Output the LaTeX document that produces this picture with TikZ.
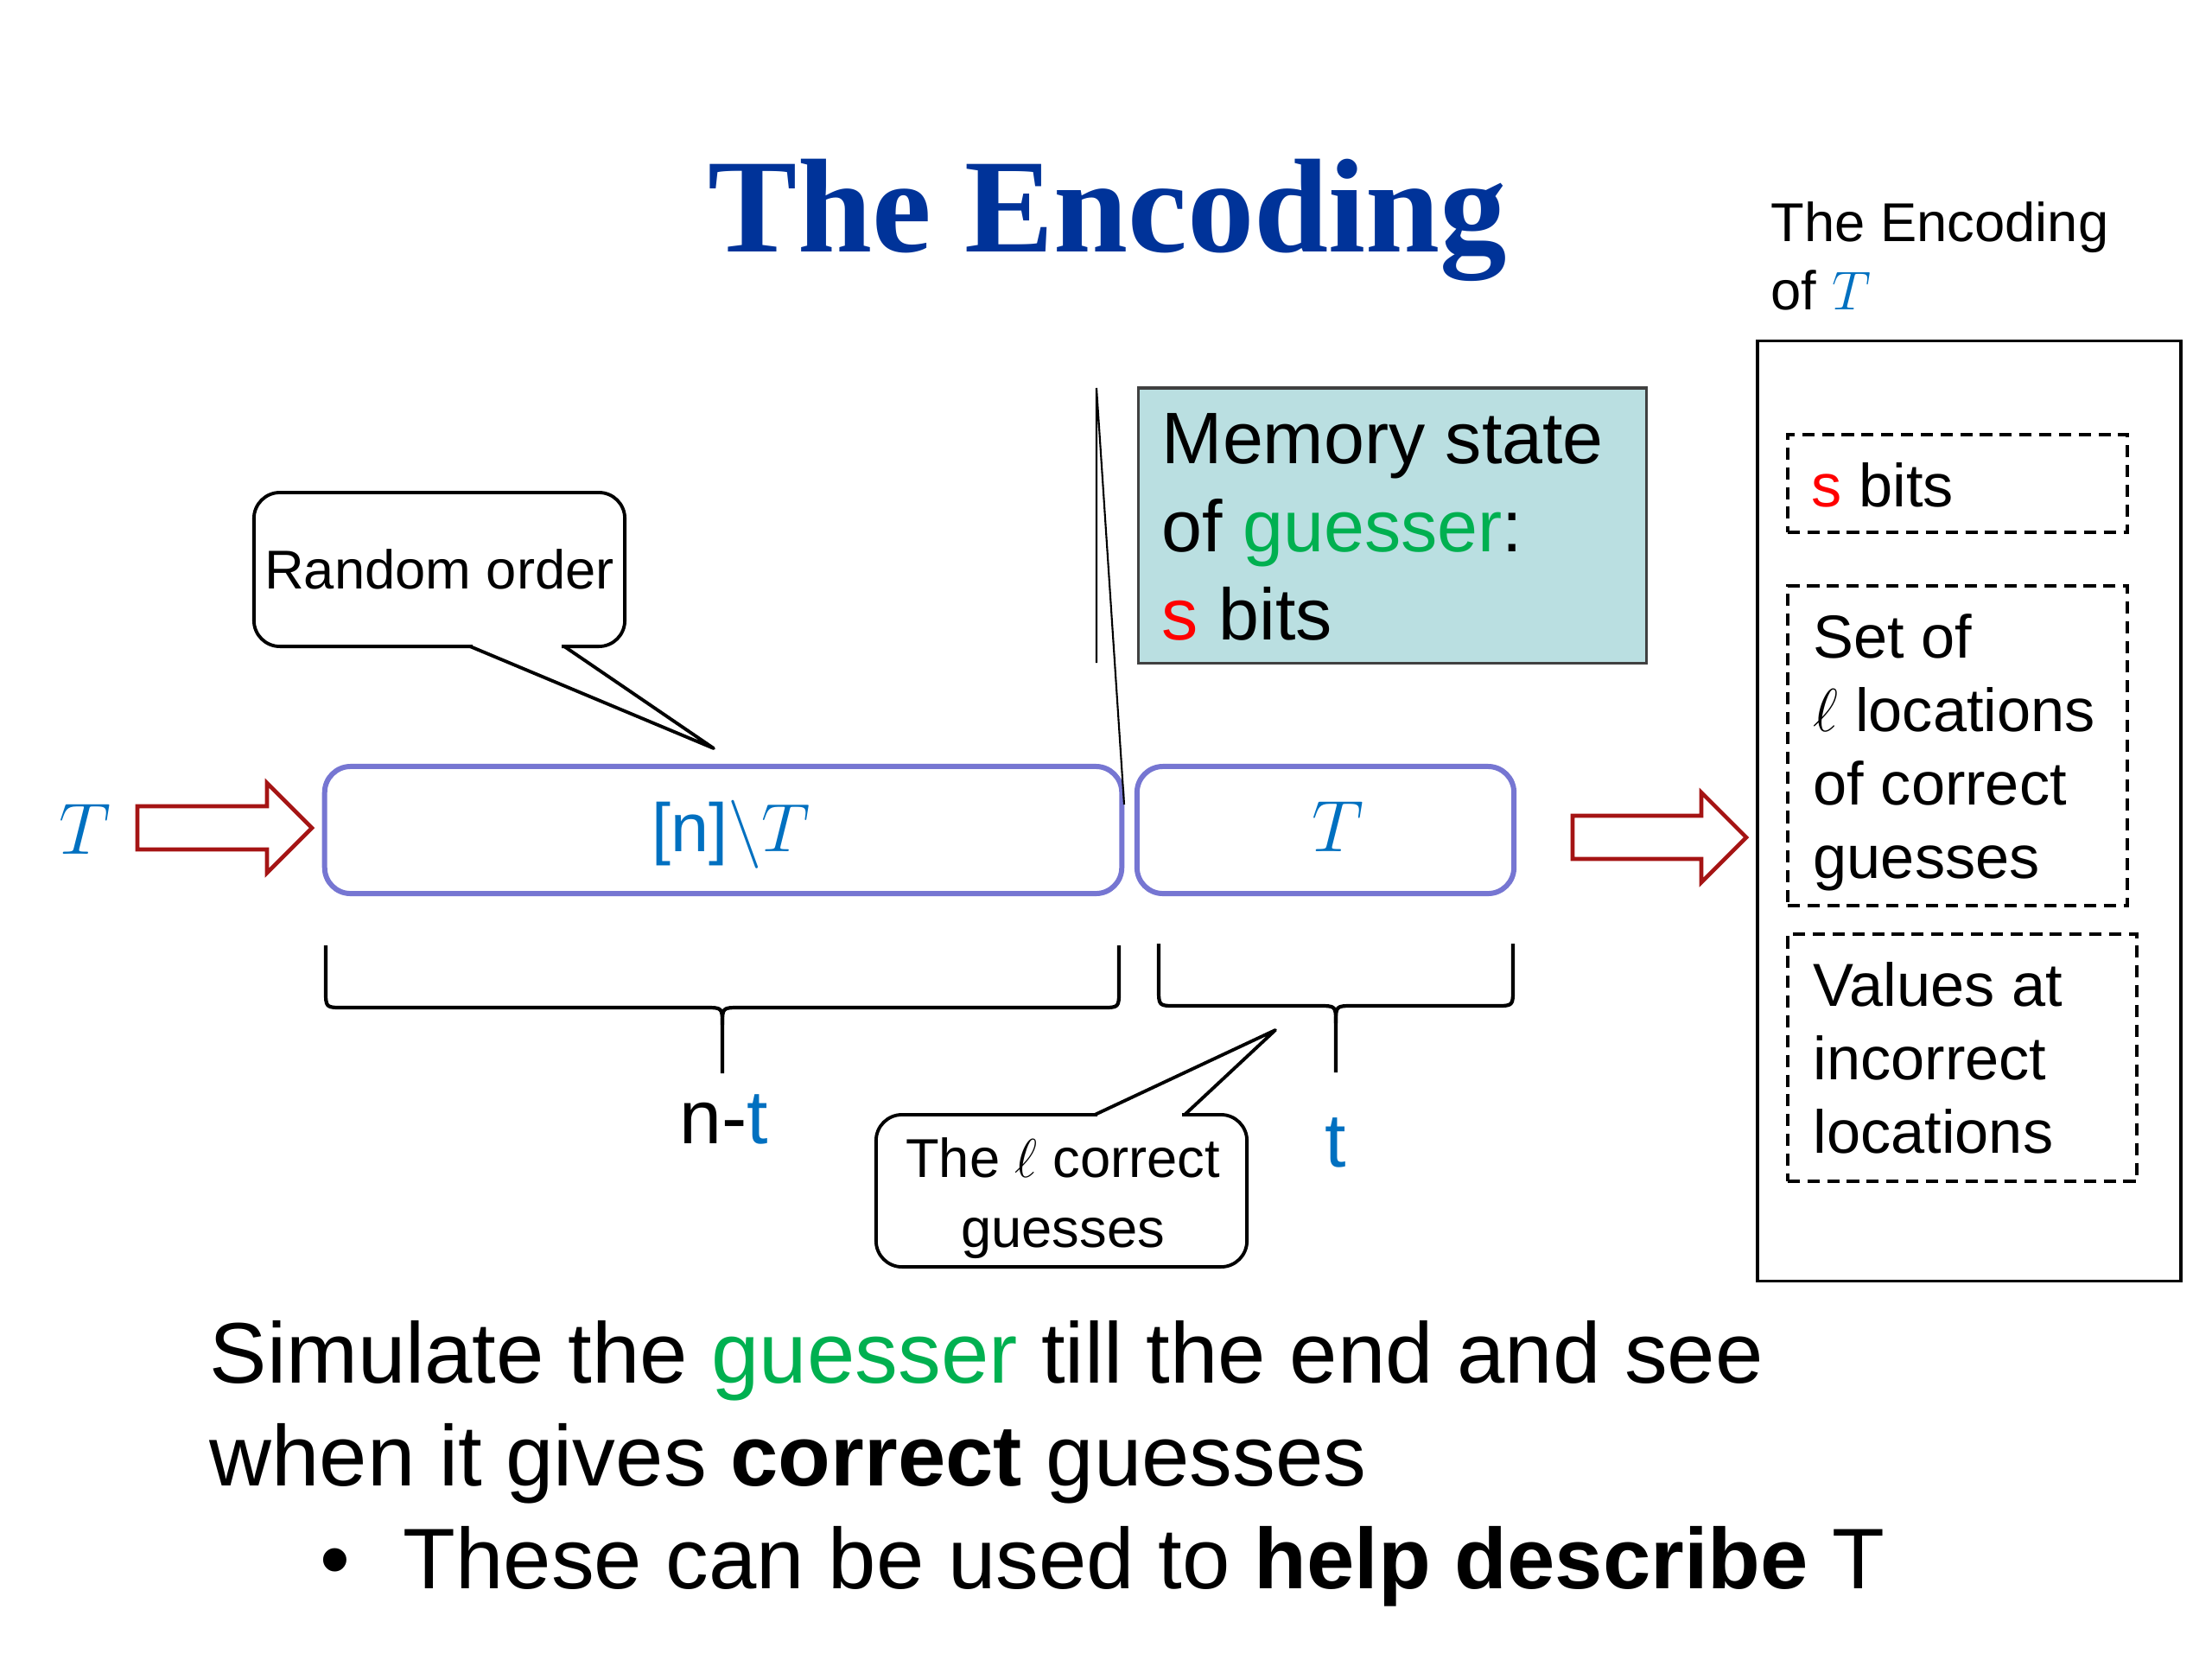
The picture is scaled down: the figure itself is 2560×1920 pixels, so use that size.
\RequirePackage{fix-cm}
\documentclass[tikz,border=0pt]{standalone}
\usepackage{fontspec}
\setmainfont{Liberation Sans}
\newfontfamily\titlefont{Liberation Serif}
\usetikzlibrary{calc}
\definecolor{titleblue}{RGB}{0,51,153}
\definecolor{tblue}{RGB}{0,112,192}
\definecolor{ggreen}{RGB}{0,176,80}
\definecolor{sred}{RGB}{255,0,0}
\definecolor{violetline}{RGB}{118,118,210}
\definecolor{arrowred}{RGB}{165,20,20}
\definecolor{memfill}{RGB}{186,223,225}
\newcommand{\fsz}[2]{\fontsize{#1}{#2}\selectfont}
\begin{document}
\begin{tikzpicture}[x=0.01cm,y=-0.01cm,
  seqbox/.style={draw=violetline, line width=1.7pt, rounded corners=0.3cm, inner sep=0pt},
  bubble/.style={draw, line width=1.1pt, rounded corners=0.3cm, fill=white, inner sep=0pt, align=center, font=\fsz{18}{23}},
  bubbletext/.style={inner sep=0pt, align=center, font=\fsz{18}{23}},
  bubbleline/.style={line width=1.1pt, line join=round},
  blockarrow/.style={draw=arrowred, line width=1.3pt, fill=white, line join=miter},
  bracepath/.style={line width=1.2pt},
  dashbox/.style={draw, dash pattern=on 4pt off 2.5pt, line width=1pt, inner sep=0pt},
  boxtext/.style={anchor=north west, inner sep=0pt, align=left, font=\fsz{20}{24.2}},
  lbl/.style={inner sep=0pt, anchor=base}
]
\useasboundingbox[fill=white] (0,0) rectangle (2560,1920);

% title
\node[lbl, font=\titlefont\bfseries\fsz{44}{50}, text=titleblue] (title) at (1282,291) {The Encoding};

% input T and arrow
\node[lbl, font=\fsz{24}{28}, text=tblue] (Tin) at (98,988) {$T$};
\draw[blockarrow] (159,933) -- (309,933) -- (309,906) -- (361,958) -- (309,1010) -- (309,983) -- (159,983) -- cycle;

% sequence boxes
\node[seqbox, minimum width=9.22cm, minimum height=1.47cm] (boxA) at (837,960.5) {};
\node[seqbox, minimum width=4.36cm, minimum height=1.47cm] (boxB) at (1534,960.5) {};
\node[lbl, font=\fsz{22.5}{27}, text=tblue] (tA) at (846,985) {[n]$\backslash T$};
\node[lbl, font=\fsz{24}{28}, text=tblue] (tB) at (1548,985) {$T$};

% memory state box with line callout
\node[draw=black!75, line width=0.9pt, fill=memfill, minimum width=5.87cm, minimum height=3.18cm, inner sep=0pt] (mem) at (1611.5,608) {};
\node[anchor=north west, inner sep=0pt, align=left, font=\fsz{24}{29}] (memtext) at (1344,478)
  {Memory state\\of {\color{ggreen}guesser}:\\{\color{sred}s} bits};
\coordinate (mcTop) at (1269,449);
\coordinate (mcBot) at (1269,767);
\coordinate (mcTip) at (1301,931);
\draw[line width=0.6pt] (mcBot) -- (mcTop) -- (mcTip);

% random order callout
\node[bubble, minimum width=4.29cm, minimum height=1.78cm] (ro) at (508.5,659) {Random order};
\coordinate (roA) at (544,748);
\coordinate (roB) at (653,748);
\coordinate (roTip) at (826,866);
\fill[white] (547,738) rectangle (650,752);
\draw[bubbleline] (roA) -- (roTip) -- (roB);

% braces
\draw[bracepath] (377,1094) -- (377,1146) .. controls (377,1166) .. (397,1166) -- (816,1166) .. controls (836,1166) .. (836,1186) -- (836,1242);
\draw[bracepath] (836,1186) .. controls (836,1166) .. (856,1166) -- (1275,1166) .. controls (1295,1166) .. (1295,1146) -- (1295,1094);
\draw[bracepath] (1341,1092) -- (1341,1144) .. controls (1341,1164) .. (1361,1164) -- (1526,1164) .. controls (1546,1164) .. (1546,1184) -- (1546,1241);
\draw[bracepath] (1546,1184) .. controls (1546,1164) .. (1566,1164) -- (1731,1164) .. controls (1751,1164) .. (1751,1144) -- (1751,1092);
\node[lbl, font=\fsz{25}{30}] (nt) at (838,1323) {n-{\color{tblue}t}};
\node[lbl, font=\fsz{25}{30}, text=tblue] (tt) at (1546,1350) {t};

% correct guesses callout
\node[bubble, minimum width=4.29cm, minimum height=1.76cm] (cg) at (1228.5,1378) {};
\node[bubbletext] (cgtext) at (1230,1387) {The $\ell$ correct\\guesses};
\coordinate (cgA) at (1267,1290);
\coordinate (cgB) at (1371,1290);
\coordinate (cgTip) at (1476,1192);
\fill[white] (1270,1286) rectangle (1368,1298);
\draw[bubbleline] (cgA) -- (cgTip) -- (cgB);

% output arrow
\draw[blockarrow] (1820,944) -- (1969,944) -- (1969,917) -- (2021,969) -- (1969,1021) -- (1969,994) -- (1820,994) -- cycle;

% encoding box
\node[anchor=north west, inner sep=0pt, align=left, font=\fsz{18}{22.4}] (enclbl) at (2049,233) {The Encoding\\of {\color{tblue}$T$}};
\node[draw, line width=1pt, minimum width=4.90cm, minimum height=10.87cm, inner sep=0pt] (enc) at (2279,938.5) {};
\node[dashbox, minimum width=3.93cm, minimum height=1.13cm] (d1) at (2265.5,559.5) {};
\node[dashbox, minimum width=3.93cm, minimum height=3.70cm] (d2) at (2265.5,863) {};
\node[dashbox, minimum width=4.04cm, minimum height=2.86cm] (d3) at (2271,1224) {};
\node[boxtext] (d1t) at (2096,535) {{\color{sred}s} bits};
\node[boxtext] (d2t) at (2098,710) {Set of\\$\ell$ locations\\of correct\\guesses};
\node[boxtext] (d3t) at (2098,1113) {Values at\\incorrect\\locations};

% bottom text
\node[inner sep=0pt, anchor=base west, font=\fsz{28.3}{34}] (l1) at (242,1600) {Simulate the {\color{ggreen}guesser} till the end and see};
\node[inner sep=0pt, anchor=base west, font=\fsz{28.3}{34}] (l2) at (242,1719) {when it gives \textbf{correct} guesses};
\node[inner sep=0pt, anchor=base west, font=\fsz{28.3}{34}] (bul) at (370,1838) {•};
\node[inner sep=0pt, anchor=base west, font=\fsz{28.3}{34}] (l3) at (466,1838) {These can be used to \textbf{help describe} T};
\end{tikzpicture}
\end{document}
